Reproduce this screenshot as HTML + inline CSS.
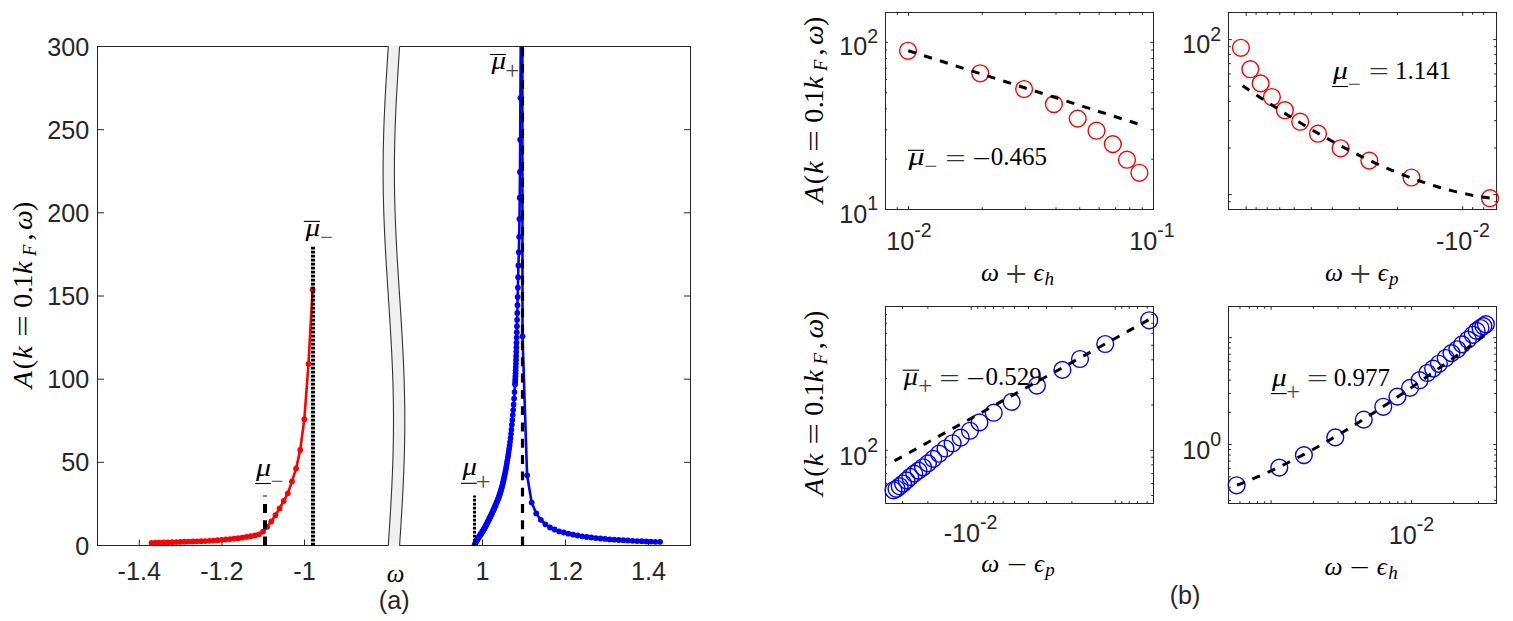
<!DOCTYPE html>
<html><head><meta charset="utf-8"><title>Spectral function figure</title><style>html,body{margin:0;padding:0;background:#fff;}svg{display:block;}</style></head><body>
<svg width="1513" height="621" viewBox="0 0 1513 621"><defs><clipPath id="clipA"><rect x="97.5" y="46.5" width="593" height="499.5"/></clipPath></defs>
<line x1="97.5" y1="46.5" x2="690.5" y2="46.5" stroke="#262626" stroke-width="1"/>
<line x1="97.5" y1="545.5" x2="690.5" y2="545.5" stroke="#262626" stroke-width="1"/>
<line x1="97.5" y1="46" x2="97.5" y2="546" stroke="#262626" stroke-width="1"/>
<line x1="690.5" y1="46" x2="690.5" y2="546" stroke="#262626" stroke-width="1"/>
<line x1="97.5" y1="545.5" x2="104" y2="545.5" stroke="#262626" stroke-width="1"/>
<line x1="690.5" y1="545.5" x2="684" y2="545.5" stroke="#262626" stroke-width="1"/>
<line x1="97.5" y1="462.33" x2="104" y2="462.33" stroke="#262626" stroke-width="1"/>
<line x1="690.5" y1="462.33" x2="684" y2="462.33" stroke="#262626" stroke-width="1"/>
<line x1="97.5" y1="379.17" x2="104" y2="379.17" stroke="#262626" stroke-width="1"/>
<line x1="690.5" y1="379.17" x2="684" y2="379.17" stroke="#262626" stroke-width="1"/>
<line x1="97.5" y1="296" x2="104" y2="296" stroke="#262626" stroke-width="1"/>
<line x1="690.5" y1="296" x2="684" y2="296" stroke="#262626" stroke-width="1"/>
<line x1="97.5" y1="212.83" x2="104" y2="212.83" stroke="#262626" stroke-width="1"/>
<line x1="690.5" y1="212.83" x2="684" y2="212.83" stroke="#262626" stroke-width="1"/>
<line x1="97.5" y1="129.67" x2="104" y2="129.67" stroke="#262626" stroke-width="1"/>
<line x1="690.5" y1="129.67" x2="684" y2="129.67" stroke="#262626" stroke-width="1"/>
<line x1="97.5" y1="46.5" x2="104" y2="46.5" stroke="#262626" stroke-width="1"/>
<line x1="690.5" y1="46.5" x2="684" y2="46.5" stroke="#262626" stroke-width="1"/>
<line x1="139.3" y1="545.5" x2="139.3" y2="539.5" stroke="#262626" stroke-width="1"/>
<line x1="221.9" y1="545.5" x2="221.9" y2="539.5" stroke="#262626" stroke-width="1"/>
<line x1="304.5" y1="545.5" x2="304.5" y2="539.5" stroke="#262626" stroke-width="1"/>
<line x1="482.5" y1="545.5" x2="482.5" y2="539.5" stroke="#262626" stroke-width="1"/>
<line x1="565.5" y1="545.5" x2="565.5" y2="539.5" stroke="#262626" stroke-width="1"/>
<line x1="648.5" y1="545.5" x2="648.5" y2="539.5" stroke="#262626" stroke-width="1"/>
<path d="M388.35,45.8 L387.79,54.28 L387.24,62.77 L386.71,71.25 L386.19,79.74 L385.69,88.22 L385.23,96.71 L384.8,105.19 L384.41,113.68 L384.06,122.16 L383.76,130.65 L383.52,139.13 L383.33,147.62 L383.19,156.1 L383.12,164.59 L383.1,173.07 L383.14,181.56 L383.24,190.04 L383.4,198.53 L383.62,207.01 L383.89,215.49 L384.2,223.98 L384.57,232.46 L384.98,240.95 L385.42,249.43 L385.9,257.92 L386.41,266.4 L386.93,274.89 L387.48,283.37 L388.03,291.86 L388.58,300.34 L389.14,308.83 L389.68,317.31 L390.21,325.8 L390.71,334.28 L391.19,342.77 L391.63,351.25 L392.04,359.74 L392.4,368.22 L392.72,376.71 L392.99,385.19 L393.2,393.67 L393.36,402.16 L393.46,410.64 L393.5,419.13 L393.48,427.61 L393.4,436.1 L393.27,444.58 L393.08,453.07 L392.83,461.55 L392.53,470.04 L392.18,478.52 L391.79,487.01 L391.36,495.49 L390.9,503.98 L390.4,512.46 L389.88,520.95 L389.35,529.43 L388.8,537.92 L388.24,546.4 L399.54,546.4 L400.1,537.92 L400.65,529.43 L401.18,520.95 L401.7,512.46 L402.2,503.98 L402.66,495.49 L403.09,487.01 L403.48,478.52 L403.83,470.04 L404.13,461.55 L404.38,453.07 L404.57,444.58 L404.7,436.1 L404.78,427.61 L404.8,419.13 L404.76,410.64 L404.66,402.16 L404.5,393.67 L404.29,385.19 L404.02,376.71 L403.7,368.22 L403.34,359.74 L402.93,351.25 L402.49,342.77 L402.01,334.28 L401.51,325.8 L400.98,317.31 L400.44,308.83 L399.88,300.34 L399.33,291.86 L398.78,283.37 L398.23,274.89 L397.71,266.4 L397.2,257.92 L396.72,249.43 L396.28,240.95 L395.87,232.46 L395.5,223.98 L395.19,215.49 L394.92,207.01 L394.7,198.53 L394.54,190.04 L394.44,181.56 L394.4,173.07 L394.42,164.59 L394.49,156.1 L394.63,147.62 L394.82,139.13 L395.06,130.65 L395.36,122.16 L395.71,113.68 L396.1,105.19 L396.53,96.71 L396.99,88.22 L397.49,79.74 L398.01,71.25 L398.54,62.77 L399.09,54.28 L399.65,45.8 Z" fill="#f0f0f0" stroke="none"/>
<polyline points="388.3,46.5 387.75,54.96 387.2,63.42 386.67,71.87 386.15,80.33 385.66,88.79 385.2,97.25 384.77,105.7 384.39,114.16 384.04,122.62 383.75,131.08 383.51,139.53 383.32,147.99 383.19,156.45 383.12,164.91 383.1,173.36 383.15,181.82 383.25,190.28 383.41,198.74 383.62,207.19 383.89,215.65 384.21,224.11 384.57,232.57 384.98,241.03 385.43,249.48 385.9,257.94 386.41,266.4 386.93,274.86 387.47,283.31 388.02,291.77 388.58,300.23 389.13,308.69 389.67,317.14 390.19,325.6 390.7,334.06 391.17,342.52 391.62,350.97 392.03,359.43 392.39,367.89 392.71,376.35 392.98,384.81 393.19,393.26 393.35,401.72 393.45,410.18 393.5,418.64 393.48,427.09 393.41,435.55 393.28,444.01 393.09,452.47 392.85,460.92 392.56,469.38 392.21,477.84 391.83,486.3 391.4,494.75 390.94,503.21 390.45,511.67 389.93,520.13 389.4,528.58 388.85,537.04 388.3,545.5" fill="none" stroke="#333333" stroke-width="1.1" stroke-linejoin="round"/>
<polyline points="399.6,46.5 399.05,54.96 398.5,63.42 397.97,71.87 397.45,80.33 396.96,88.79 396.5,97.25 396.07,105.7 395.69,114.16 395.34,122.62 395.05,131.08 394.81,139.53 394.62,147.99 394.49,156.45 394.42,164.91 394.4,173.36 394.45,181.82 394.55,190.28 394.71,198.74 394.92,207.19 395.19,215.65 395.51,224.11 395.87,232.57 396.28,241.03 396.73,249.48 397.2,257.94 397.71,266.4 398.23,274.86 398.77,283.31 399.32,291.77 399.88,300.23 400.43,308.69 400.97,317.14 401.49,325.6 402,334.06 402.47,342.52 402.92,350.97 403.33,359.43 403.69,367.89 404.01,376.35 404.28,384.81 404.49,393.26 404.65,401.72 404.75,410.18 404.8,418.64 404.78,427.09 404.71,435.55 404.58,444.01 404.39,452.47 404.15,460.92 403.86,469.38 403.51,477.84 403.13,486.3 402.7,494.75 402.24,503.21 401.75,511.67 401.23,520.13 400.7,528.58 400.15,537.04 399.6,545.5" fill="none" stroke="#333333" stroke-width="1.1" stroke-linejoin="round"/>
<text x="89.2" y="554.65" font-family="'Liberation Sans', Arial, sans-serif" font-size="25.2" text-anchor="end" fill="#262626">0</text>
<text x="89.2" y="471.48" font-family="'Liberation Sans', Arial, sans-serif" font-size="25.2" text-anchor="end" fill="#262626">50</text>
<text x="89.2" y="388.32" font-family="'Liberation Sans', Arial, sans-serif" font-size="25.2" text-anchor="end" fill="#262626">100</text>
<text x="89.2" y="305.15" font-family="'Liberation Sans', Arial, sans-serif" font-size="25.2" text-anchor="end" fill="#262626">150</text>
<text x="89.2" y="221.98" font-family="'Liberation Sans', Arial, sans-serif" font-size="25.2" text-anchor="end" fill="#262626">200</text>
<text x="89.2" y="138.82" font-family="'Liberation Sans', Arial, sans-serif" font-size="25.2" text-anchor="end" fill="#262626">250</text>
<text x="89.2" y="55.65" font-family="'Liberation Sans', Arial, sans-serif" font-size="25.2" text-anchor="end" fill="#262626">300</text>
<text x="139.3" y="579.8" font-family="'Liberation Sans', Arial, sans-serif" font-size="25.2" text-anchor="middle" fill="#262626">-1.4</text>
<text x="221.9" y="579.8" font-family="'Liberation Sans', Arial, sans-serif" font-size="25.2" text-anchor="middle" fill="#262626">-1.2</text>
<text x="304.5" y="579.8" font-family="'Liberation Sans', Arial, sans-serif" font-size="25.2" text-anchor="middle" fill="#262626">-1</text>
<text x="482.5" y="579.8" font-family="'Liberation Sans', Arial, sans-serif" font-size="25.2" text-anchor="middle" fill="#262626">1</text>
<text x="565.5" y="579.8" font-family="'Liberation Sans', Arial, sans-serif" font-size="25.2" text-anchor="middle" fill="#262626">1.2</text>
<text x="648.5" y="579.8" font-family="'Liberation Sans', Arial, sans-serif" font-size="25.2" text-anchor="middle" fill="#262626">1.4</text>
<text x="386.87" y="582" font-family="'Liberation Serif', 'Times New Roman', serif" font-size="25" fill="#000" font-style="italic">ω</text>
<text x="394.15" y="608.6" font-family="'Liberation Sans', Arial, sans-serif" font-size="25.2" text-anchor="middle" fill="#262626">(a)</text>
<polyline points="151.53,542.8 155.66,542.69 159.79,542.56 163.92,542.43 168.05,542.3 172.18,542.16 176.31,542.03 180.44,541.89 184.57,541.75 188.7,541.62 192.83,541.49 196.96,541.35 201.09,541.2 205.22,541.03 209.35,540.83 213.48,540.57 217.61,540.23 221.74,539.86 225.87,539.49 230,539.1 234.13,538.68 238.26,538.19 242.39,537.62 246.52,536.94 250.65,536.18 254.78,535.39 258.91,534.36 263.04,531.6 267.17,526.8 271.3,521.5 275.43,515.2 279.56,508.5 283.69,501 287.82,493.3 291.95,481.3 296.08,468.6 300.21,449.9 304.34,419.2 308.47,363.8 312.6,289.5" fill="none" stroke="#ff0000" stroke-width="2.6" stroke-linejoin="round"/>
<circle cx="151.53" cy="542.8" r="2.9" fill="#ff0000" stroke="none" stroke-width="1"/>
<circle cx="155.66" cy="542.69" r="2.9" fill="#ff0000" stroke="none" stroke-width="1"/>
<circle cx="159.79" cy="542.56" r="2.9" fill="#ff0000" stroke="none" stroke-width="1"/>
<circle cx="163.92" cy="542.43" r="2.9" fill="#ff0000" stroke="none" stroke-width="1"/>
<circle cx="168.05" cy="542.3" r="2.9" fill="#ff0000" stroke="none" stroke-width="1"/>
<circle cx="172.18" cy="542.16" r="2.9" fill="#ff0000" stroke="none" stroke-width="1"/>
<circle cx="176.31" cy="542.03" r="2.9" fill="#ff0000" stroke="none" stroke-width="1"/>
<circle cx="180.44" cy="541.89" r="2.9" fill="#ff0000" stroke="none" stroke-width="1"/>
<circle cx="184.57" cy="541.75" r="2.9" fill="#ff0000" stroke="none" stroke-width="1"/>
<circle cx="188.7" cy="541.62" r="2.9" fill="#ff0000" stroke="none" stroke-width="1"/>
<circle cx="192.83" cy="541.49" r="2.9" fill="#ff0000" stroke="none" stroke-width="1"/>
<circle cx="196.96" cy="541.35" r="2.9" fill="#ff0000" stroke="none" stroke-width="1"/>
<circle cx="201.09" cy="541.2" r="2.9" fill="#ff0000" stroke="none" stroke-width="1"/>
<circle cx="205.22" cy="541.03" r="2.9" fill="#ff0000" stroke="none" stroke-width="1"/>
<circle cx="209.35" cy="540.83" r="2.9" fill="#ff0000" stroke="none" stroke-width="1"/>
<circle cx="213.48" cy="540.57" r="2.9" fill="#ff0000" stroke="none" stroke-width="1"/>
<circle cx="217.61" cy="540.23" r="2.9" fill="#ff0000" stroke="none" stroke-width="1"/>
<circle cx="221.74" cy="539.86" r="2.9" fill="#ff0000" stroke="none" stroke-width="1"/>
<circle cx="225.87" cy="539.49" r="2.9" fill="#ff0000" stroke="none" stroke-width="1"/>
<circle cx="230" cy="539.1" r="2.9" fill="#ff0000" stroke="none" stroke-width="1"/>
<circle cx="234.13" cy="538.68" r="2.9" fill="#ff0000" stroke="none" stroke-width="1"/>
<circle cx="238.26" cy="538.19" r="2.9" fill="#ff0000" stroke="none" stroke-width="1"/>
<circle cx="242.39" cy="537.62" r="2.9" fill="#ff0000" stroke="none" stroke-width="1"/>
<circle cx="246.52" cy="536.94" r="2.9" fill="#ff0000" stroke="none" stroke-width="1"/>
<circle cx="250.65" cy="536.18" r="2.9" fill="#ff0000" stroke="none" stroke-width="1"/>
<circle cx="254.78" cy="535.39" r="2.9" fill="#ff0000" stroke="none" stroke-width="1"/>
<circle cx="258.91" cy="534.36" r="2.9" fill="#ff0000" stroke="none" stroke-width="1"/>
<circle cx="263.04" cy="531.6" r="2.9" fill="#ff0000" stroke="none" stroke-width="1"/>
<circle cx="267.17" cy="526.8" r="2.9" fill="#ff0000" stroke="none" stroke-width="1"/>
<circle cx="271.3" cy="521.5" r="2.9" fill="#ff0000" stroke="none" stroke-width="1"/>
<circle cx="275.43" cy="515.2" r="2.9" fill="#ff0000" stroke="none" stroke-width="1"/>
<circle cx="279.56" cy="508.5" r="2.9" fill="#ff0000" stroke="none" stroke-width="1"/>
<circle cx="283.69" cy="501" r="2.9" fill="#ff0000" stroke="none" stroke-width="1"/>
<circle cx="287.82" cy="493.3" r="2.9" fill="#ff0000" stroke="none" stroke-width="1"/>
<circle cx="291.95" cy="481.3" r="2.9" fill="#ff0000" stroke="none" stroke-width="1"/>
<circle cx="296.08" cy="468.6" r="2.9" fill="#ff0000" stroke="none" stroke-width="1"/>
<circle cx="300.21" cy="449.9" r="2.9" fill="#ff0000" stroke="none" stroke-width="1"/>
<circle cx="304.34" cy="419.2" r="2.9" fill="#ff0000" stroke="none" stroke-width="1"/>
<circle cx="308.47" cy="363.8" r="2.9" fill="#ff0000" stroke="none" stroke-width="1"/>
<circle cx="312.6" cy="289.5" r="2.9" fill="#ff0000" stroke="none" stroke-width="1"/>
<g clip-path="url(#clipA)">
<polyline points="474.5,545.5 476.57,540.75 479.55,536 482.7,531.25 485.39,526.49 487.87,521.74 490.23,516.99 492.45,512.24 494.55,507.49 496.58,502.74 498.46,497.99 500.09,493.24 501.48,488.48 502.72,483.73 503.84,478.98 504.86,474.23 505.79,469.48 506.64,464.73 507.44,459.98 508.19,455.23 508.9,450.47 509.57,445.72 510.18,440.97 510.73,436.22 511.22,431.47 511.68,426.72 512.12,421.97 512.56,417.22 512.99,412.46 513.4,407.71 513.78,402.96 514.13,398.21 514.46,393.46 514.77,388.71 515.05,383.96 515.3,379.21 515.51,374.45 515.69,369.7 515.86,364.95 516.02,360.2 516.16,355.45 516.3,350.7 516.43,345.95 516.57,341.2 516.7,336.44 516.83,331.69 516.95,326.94 517.07,322.19 517.18,317.44 517.3,312.69 517.41,307.94 517.52,303.19 517.64,298.43 517.75,293.68 517.85,288.93 517.96,284.18 518.07,279.43 518.18,274.68 518.3,269.93 518.42,265.18 518.58,260.42 518.74,255.67 518.88,250.92 518.98,246.17 519.08,241.42 519.17,236.67 519.25,231.92 519.33,227.17 519.41,222.41 519.48,217.66 519.54,212.91 519.6,208.16 519.66,203.41 519.72,198.66 519.77,193.91 519.82,189.16 519.86,184.4 519.91,179.65 519.95,174.9 519.98,170.15 520.02,165.4 520.05,160.65 520.08,155.9 520.11,151.15 520.14,146.39 520.16,141.64 520.19,136.89 520.21,132.14 520.24,127.39 520.26,122.64 520.29,117.89 520.31,113.14 520.34,108.38 520.36,103.63 520.39,98.88 520.42,94.13 520.45,89.38 520.48,84.63 520.51,79.88 520.54,75.13 520.57,70.37 520.6,65.62 520.62,60.87 520.65,56.12 520.68,51.37 520.7,46.62 520.72,41.87 520.74,37.12 520.76,32.36 520.78,27.61 520.8,22.86 520.82,18.11 520.84,13.36 520.86,8.61 520.88,3.86 520.9,-0.89 520.92,-5.65 520.94,-10.4 520.95,-15.15 520.97,-19.9 520.99,-24.65 521.01,-29.4 521.02,-34.15 521.04,-38.9 521.05,-43.66 521.07,-48.41 521.08,-53.16 521.1,-57.91 521.11,-62.66 521.12,-67.41 521.14,-72.16 521.15,-76.91 521.16,-81.67 521.17,-86.42 521.18,-91.17 521.19,-95.92 521.2,-100.67 521.21,-105.42 521.22,-110.17 521.23,-114.92 521.24,-119.68 521.25,-124.43 521.26,-129.18 521.27,-133.93 521.28,-138.68 521.29,-143.43 521.3,-148.18 521.31,-152.93 521.31,-157.69 521.32,-162.44 521.33,-167.19 521.34,-171.94 521.35,-176.69 521.36,-181.44 521.37,-186.19 521.38,-190.94 521.39,-195.7 521.39,-200.45 521.4,-205.2 521.41,-209.95 521.42,-214.7 521.43,-219.45 521.44,-224.2 521.44,-228.95 521.45,-233.71 521.46,-238.46 521.47,-243.21 521.47,-247.96 521.48,-252.71 521.49,-257.46 521.49,-262.21 521.5,-266.96 521.51,-271.72 521.51,-276.47 521.52,-281.22 521.52,-285.97 521.53,-290.72 521.54,-295.47 521.54,-300.22 521.55,-304.97 521.55,-309.73 521.56,-314.48 521.56,-319.23 521.56,-323.98 521.57,-328.73 521.57,-333.48 521.58,-338.23 521.58,-342.98 521.58,-347.74 521.59,-352.49 521.59,-357.24 521.59,-361.99 521.59,-366.74 521.59,-371.49 521.6,-376.24 521.6,-380.99 521.6,-385.75 521.6,-390.5 521.6,-395.25 521.6,-400" fill="none" stroke="#0000ff" stroke-width="2.6" stroke-linejoin="round"/>
<polyline points="522.2,-400 522.5,336.3 527.09,475.3 531.67,502.6 536.25,513.4 540.84,519.8 545.42,524.3 550.01,527.5 554.6,529.5 559.18,531.4 563.76,532.5 568.35,533.7 572.93,534.6 577.52,535.5 582.11,536.3 586.69,536.9 591.27,537.5 595.86,538.1 600.44,538.5 605.03,538.9 609.62,539.4 614.2,539.7 618.78,540 623.37,540.2 627.96,540.5 632.54,540.8 637.12,541.1 641.71,541.2 646.29,541.4 650.88,541.6 655.47,541.8 660.05,541.8" fill="none" stroke="#0000ff" stroke-width="2.6" stroke-linejoin="round"/>
<circle cx="474.5" cy="545.5" r="2.85" fill="#0000ff" stroke="none" stroke-width="1"/>
<circle cx="474.96" cy="544.1" r="2.85" fill="#0000ff" stroke="none" stroke-width="1"/>
<circle cx="475.4" cy="543.05" r="2.85" fill="#0000ff" stroke="none" stroke-width="1"/>
<circle cx="475.86" cy="542.09" r="2.85" fill="#0000ff" stroke="none" stroke-width="1"/>
<circle cx="476.3" cy="541.25" r="2.85" fill="#0000ff" stroke="none" stroke-width="1"/>
<circle cx="476.77" cy="540.4" r="2.85" fill="#0000ff" stroke="none" stroke-width="1"/>
<circle cx="477.22" cy="539.64" r="2.85" fill="#0000ff" stroke="none" stroke-width="1"/>
<circle cx="477.66" cy="538.92" r="2.85" fill="#0000ff" stroke="none" stroke-width="1"/>
<circle cx="478.11" cy="538.2" r="2.85" fill="#0000ff" stroke="none" stroke-width="1"/>
<circle cx="478.55" cy="537.51" r="2.85" fill="#0000ff" stroke="none" stroke-width="1"/>
<circle cx="479.02" cy="536.79" r="2.85" fill="#0000ff" stroke="none" stroke-width="1"/>
<circle cx="479.45" cy="536.15" r="2.85" fill="#0000ff" stroke="none" stroke-width="1"/>
<circle cx="479.91" cy="535.47" r="2.85" fill="#0000ff" stroke="none" stroke-width="1"/>
<circle cx="480.37" cy="534.78" r="2.85" fill="#0000ff" stroke="none" stroke-width="1"/>
<circle cx="480.83" cy="534.1" r="2.85" fill="#0000ff" stroke="none" stroke-width="1"/>
<circle cx="481.26" cy="533.46" r="2.85" fill="#0000ff" stroke="none" stroke-width="1"/>
<circle cx="481.71" cy="532.78" r="2.85" fill="#0000ff" stroke="none" stroke-width="1"/>
<circle cx="482.15" cy="532.09" r="2.85" fill="#0000ff" stroke="none" stroke-width="1"/>
<circle cx="482.62" cy="531.37" r="2.85" fill="#0000ff" stroke="none" stroke-width="1"/>
<circle cx="483.07" cy="530.65" r="2.85" fill="#0000ff" stroke="none" stroke-width="1"/>
<circle cx="483.5" cy="529.93" r="2.85" fill="#0000ff" stroke="none" stroke-width="1"/>
<circle cx="483.96" cy="529.12" r="2.85" fill="#0000ff" stroke="none" stroke-width="1"/>
<circle cx="484.41" cy="528.32" r="2.85" fill="#0000ff" stroke="none" stroke-width="1"/>
<circle cx="484.86" cy="527.48" r="2.85" fill="#0000ff" stroke="none" stroke-width="1"/>
<circle cx="485.32" cy="526.64" r="2.85" fill="#0000ff" stroke="none" stroke-width="1"/>
<circle cx="485.76" cy="525.79" r="2.85" fill="#0000ff" stroke="none" stroke-width="1"/>
<circle cx="486.21" cy="524.95" r="2.85" fill="#0000ff" stroke="none" stroke-width="1"/>
<circle cx="486.65" cy="524.11" r="2.85" fill="#0000ff" stroke="none" stroke-width="1"/>
<circle cx="487.11" cy="523.23" r="2.85" fill="#0000ff" stroke="none" stroke-width="1"/>
<circle cx="487.57" cy="522.34" r="2.85" fill="#0000ff" stroke="none" stroke-width="1"/>
<circle cx="488.02" cy="521.46" r="2.85" fill="#0000ff" stroke="none" stroke-width="1"/>
<circle cx="488.46" cy="520.58" r="2.85" fill="#0000ff" stroke="none" stroke-width="1"/>
<circle cx="488.91" cy="519.69" r="2.85" fill="#0000ff" stroke="none" stroke-width="1"/>
<circle cx="489.36" cy="518.77" r="2.85" fill="#0000ff" stroke="none" stroke-width="1"/>
<circle cx="489.81" cy="517.85" r="2.85" fill="#0000ff" stroke="none" stroke-width="1"/>
<circle cx="490.26" cy="516.92" r="2.85" fill="#0000ff" stroke="none" stroke-width="1"/>
<circle cx="490.7" cy="516" r="2.85" fill="#0000ff" stroke="none" stroke-width="1"/>
<circle cx="491.16" cy="515.04" r="2.85" fill="#0000ff" stroke="none" stroke-width="1"/>
<circle cx="491.61" cy="514.07" r="2.85" fill="#0000ff" stroke="none" stroke-width="1"/>
<circle cx="492.05" cy="513.11" r="2.85" fill="#0000ff" stroke="none" stroke-width="1"/>
<circle cx="492.51" cy="512.11" r="2.85" fill="#0000ff" stroke="none" stroke-width="1"/>
<circle cx="492.95" cy="511.1" r="2.85" fill="#0000ff" stroke="none" stroke-width="1"/>
<circle cx="493.42" cy="510.06" r="2.85" fill="#0000ff" stroke="none" stroke-width="1"/>
<circle cx="493.86" cy="509.06" r="2.85" fill="#0000ff" stroke="none" stroke-width="1"/>
<circle cx="494.3" cy="508.05" r="2.85" fill="#0000ff" stroke="none" stroke-width="1"/>
<circle cx="494.76" cy="507.01" r="2.85" fill="#0000ff" stroke="none" stroke-width="1"/>
<circle cx="495.21" cy="505.97" r="2.85" fill="#0000ff" stroke="none" stroke-width="1"/>
<circle cx="495.66" cy="504.92" r="2.85" fill="#0000ff" stroke="none" stroke-width="1"/>
<circle cx="496.1" cy="503.88" r="2.85" fill="#0000ff" stroke="none" stroke-width="1"/>
<circle cx="496.56" cy="502.8" r="2.85" fill="#0000ff" stroke="none" stroke-width="1"/>
<circle cx="497" cy="501.71" r="2.85" fill="#0000ff" stroke="none" stroke-width="1"/>
<circle cx="497.45" cy="500.59" r="2.85" fill="#0000ff" stroke="none" stroke-width="1"/>
<circle cx="497.91" cy="499.42" r="2.85" fill="#0000ff" stroke="none" stroke-width="1"/>
<circle cx="498.36" cy="498.26" r="2.85" fill="#0000ff" stroke="none" stroke-width="1"/>
<circle cx="498.81" cy="497.02" r="2.85" fill="#0000ff" stroke="none" stroke-width="1"/>
<circle cx="499.25" cy="495.77" r="2.85" fill="#0000ff" stroke="none" stroke-width="1"/>
<circle cx="499.7" cy="494.45" r="2.85" fill="#0000ff" stroke="none" stroke-width="1"/>
<circle cx="500.16" cy="493" r="2.85" fill="#0000ff" stroke="none" stroke-width="1"/>
<circle cx="500.61" cy="491.52" r="2.85" fill="#0000ff" stroke="none" stroke-width="1"/>
<circle cx="501.06" cy="489.99" r="2.85" fill="#0000ff" stroke="none" stroke-width="1"/>
<circle cx="501.51" cy="488.39" r="2.85" fill="#0000ff" stroke="none" stroke-width="1"/>
<circle cx="501.95" cy="486.74" r="2.85" fill="#0000ff" stroke="none" stroke-width="1"/>
<circle cx="502.4" cy="485.02" r="2.85" fill="#0000ff" stroke="none" stroke-width="1"/>
<circle cx="502.85" cy="483.21" r="2.85" fill="#0000ff" stroke="none" stroke-width="1"/>
<circle cx="503.31" cy="481.32" r="2.85" fill="#0000ff" stroke="none" stroke-width="1"/>
<circle cx="503.75" cy="479.4" r="2.85" fill="#0000ff" stroke="none" stroke-width="1"/>
<circle cx="504.2" cy="477.35" r="2.85" fill="#0000ff" stroke="none" stroke-width="1"/>
<circle cx="504.66" cy="475.22" r="2.85" fill="#0000ff" stroke="none" stroke-width="1"/>
<circle cx="505.1" cy="473.06" r="2.85" fill="#0000ff" stroke="none" stroke-width="1"/>
<circle cx="505.56" cy="470.73" r="2.85" fill="#0000ff" stroke="none" stroke-width="1"/>
<circle cx="506.01" cy="468.32" r="2.85" fill="#0000ff" stroke="none" stroke-width="1"/>
<circle cx="506.45" cy="465.83" r="2.85" fill="#0000ff" stroke="none" stroke-width="1"/>
<circle cx="506.9" cy="463.22" r="2.85" fill="#0000ff" stroke="none" stroke-width="1"/>
<circle cx="507.35" cy="460.49" r="2.85" fill="#0000ff" stroke="none" stroke-width="1"/>
<circle cx="507.8" cy="457.68" r="2.85" fill="#0000ff" stroke="none" stroke-width="1"/>
<circle cx="508.25" cy="454.79" r="2.85" fill="#0000ff" stroke="none" stroke-width="1"/>
<circle cx="508.71" cy="451.82" r="2.85" fill="#0000ff" stroke="none" stroke-width="1"/>
<circle cx="509.15" cy="448.77" r="2.85" fill="#0000ff" stroke="none" stroke-width="1"/>
<circle cx="509.6" cy="445.52" r="2.85" fill="#0000ff" stroke="none" stroke-width="1"/>
<circle cx="510.05" cy="442.03" r="2.85" fill="#0000ff" stroke="none" stroke-width="1"/>
<circle cx="510.5" cy="438.26" r="2.85" fill="#0000ff" stroke="none" stroke-width="1"/>
<circle cx="510.95" cy="434.09" r="2.85" fill="#0000ff" stroke="none" stroke-width="1"/>
<circle cx="511.4" cy="429.63" r="2.85" fill="#0000ff" stroke="none" stroke-width="1"/>
<circle cx="511.85" cy="424.85" r="2.85" fill="#0000ff" stroke="none" stroke-width="1"/>
<circle cx="512.3" cy="420" r="2.85" fill="#0000ff" stroke="none" stroke-width="1"/>
<circle cx="512.75" cy="415.06" r="2.85" fill="#0000ff" stroke="none" stroke-width="1"/>
<circle cx="513.2" cy="410" r="2.85" fill="#0000ff" stroke="none" stroke-width="1"/>
<circle cx="513.65" cy="404.63" r="2.85" fill="#0000ff" stroke="none" stroke-width="1"/>
<circle cx="514.1" cy="398.57" r="2.85" fill="#0000ff" stroke="none" stroke-width="1"/>
<circle cx="514.55" cy="392.02" r="2.85" fill="#0000ff" stroke="none" stroke-width="1"/>
<circle cx="520.39" cy="97.87" r="2.9" fill="#0000ff" stroke="none" stroke-width="1"/>
<circle cx="520.17" cy="139.73" r="2.9" fill="#0000ff" stroke="none" stroke-width="1"/>
<circle cx="519.97" cy="171.96" r="2.9" fill="#0000ff" stroke="none" stroke-width="1"/>
<circle cx="519.73" cy="197.76" r="2.9" fill="#0000ff" stroke="none" stroke-width="1"/>
<circle cx="519.46" cy="219" r="2.9" fill="#0000ff" stroke="none" stroke-width="1"/>
<circle cx="519.17" cy="236.87" r="2.9" fill="#0000ff" stroke="none" stroke-width="1"/>
<circle cx="518.85" cy="252.19" r="2.9" fill="#0000ff" stroke="none" stroke-width="1"/>
<circle cx="518.41" cy="265.49" r="2.9" fill="#0000ff" stroke="none" stroke-width="1"/>
<circle cx="518.12" cy="277.19" r="2.9" fill="#0000ff" stroke="none" stroke-width="1"/>
<circle cx="517.88" cy="287.57" r="2.9" fill="#0000ff" stroke="none" stroke-width="1"/>
<circle cx="517.67" cy="296.88" r="2.9" fill="#0000ff" stroke="none" stroke-width="1"/>
<circle cx="517.47" cy="305.27" r="2.9" fill="#0000ff" stroke="none" stroke-width="1"/>
<circle cx="517.29" cy="312.9" r="2.9" fill="#0000ff" stroke="none" stroke-width="1"/>
<circle cx="517.12" cy="319.87" r="2.9" fill="#0000ff" stroke="none" stroke-width="1"/>
<circle cx="516.97" cy="326.26" r="2.9" fill="#0000ff" stroke="none" stroke-width="1"/>
<circle cx="516.81" cy="332.16" r="2.9" fill="#0000ff" stroke="none" stroke-width="1"/>
<circle cx="516.67" cy="337.62" r="2.9" fill="#0000ff" stroke="none" stroke-width="1"/>
<circle cx="516.52" cy="342.7" r="2.9" fill="#0000ff" stroke="none" stroke-width="1"/>
<circle cx="516.39" cy="347.43" r="2.9" fill="#0000ff" stroke="none" stroke-width="1"/>
<circle cx="516.27" cy="351.86" r="2.9" fill="#0000ff" stroke="none" stroke-width="1"/>
<circle cx="516.15" cy="356.01" r="2.9" fill="#0000ff" stroke="none" stroke-width="1"/>
<circle cx="516.03" cy="359.91" r="2.9" fill="#0000ff" stroke="none" stroke-width="1"/>
<circle cx="515.91" cy="363.6" r="2.9" fill="#0000ff" stroke="none" stroke-width="1"/>
<circle cx="515.79" cy="367.07" r="2.9" fill="#0000ff" stroke="none" stroke-width="1"/>
<circle cx="515.67" cy="370.37" r="2.9" fill="#0000ff" stroke="none" stroke-width="1"/>
<circle cx="515.55" cy="373.49" r="2.9" fill="#0000ff" stroke="none" stroke-width="1"/>
<circle cx="515.42" cy="376.46" r="2.9" fill="#0000ff" stroke="none" stroke-width="1"/>
<circle cx="515.3" cy="379.28" r="2.9" fill="#0000ff" stroke="none" stroke-width="1"/>
<circle cx="515.16" cy="381.97" r="2.9" fill="#0000ff" stroke="none" stroke-width="1"/>
<circle cx="515.02" cy="384.54" r="2.9" fill="#0000ff" stroke="none" stroke-width="1"/>
<circle cx="522.5" cy="336.3" r="2.9" fill="#0000ff" stroke="none" stroke-width="1"/>
<circle cx="527.09" cy="475.3" r="2.9" fill="#0000ff" stroke="none" stroke-width="1"/>
<circle cx="531.67" cy="502.6" r="2.9" fill="#0000ff" stroke="none" stroke-width="1"/>
<circle cx="536.25" cy="513.4" r="2.9" fill="#0000ff" stroke="none" stroke-width="1"/>
<circle cx="540.84" cy="519.8" r="2.9" fill="#0000ff" stroke="none" stroke-width="1"/>
<circle cx="545.42" cy="524.3" r="2.9" fill="#0000ff" stroke="none" stroke-width="1"/>
<circle cx="550.01" cy="527.5" r="2.9" fill="#0000ff" stroke="none" stroke-width="1"/>
<circle cx="554.6" cy="529.5" r="2.9" fill="#0000ff" stroke="none" stroke-width="1"/>
<circle cx="559.18" cy="531.4" r="2.9" fill="#0000ff" stroke="none" stroke-width="1"/>
<circle cx="563.76" cy="532.5" r="2.9" fill="#0000ff" stroke="none" stroke-width="1"/>
<circle cx="568.35" cy="533.7" r="2.9" fill="#0000ff" stroke="none" stroke-width="1"/>
<circle cx="572.93" cy="534.6" r="2.9" fill="#0000ff" stroke="none" stroke-width="1"/>
<circle cx="577.52" cy="535.5" r="2.9" fill="#0000ff" stroke="none" stroke-width="1"/>
<circle cx="582.11" cy="536.3" r="2.9" fill="#0000ff" stroke="none" stroke-width="1"/>
<circle cx="586.69" cy="536.9" r="2.9" fill="#0000ff" stroke="none" stroke-width="1"/>
<circle cx="591.27" cy="537.5" r="2.9" fill="#0000ff" stroke="none" stroke-width="1"/>
<circle cx="595.86" cy="538.1" r="2.9" fill="#0000ff" stroke="none" stroke-width="1"/>
<circle cx="600.44" cy="538.5" r="2.9" fill="#0000ff" stroke="none" stroke-width="1"/>
<circle cx="605.03" cy="538.9" r="2.9" fill="#0000ff" stroke="none" stroke-width="1"/>
<circle cx="609.62" cy="539.4" r="2.9" fill="#0000ff" stroke="none" stroke-width="1"/>
<circle cx="614.2" cy="539.7" r="2.9" fill="#0000ff" stroke="none" stroke-width="1"/>
<circle cx="618.78" cy="540" r="2.9" fill="#0000ff" stroke="none" stroke-width="1"/>
<circle cx="623.37" cy="540.2" r="2.9" fill="#0000ff" stroke="none" stroke-width="1"/>
<circle cx="627.96" cy="540.5" r="2.9" fill="#0000ff" stroke="none" stroke-width="1"/>
<circle cx="632.54" cy="540.8" r="2.9" fill="#0000ff" stroke="none" stroke-width="1"/>
<circle cx="637.12" cy="541.1" r="2.9" fill="#0000ff" stroke="none" stroke-width="1"/>
<circle cx="641.71" cy="541.2" r="2.9" fill="#0000ff" stroke="none" stroke-width="1"/>
<circle cx="646.29" cy="541.4" r="2.9" fill="#0000ff" stroke="none" stroke-width="1"/>
<circle cx="650.88" cy="541.6" r="2.9" fill="#0000ff" stroke="none" stroke-width="1"/>
<circle cx="655.47" cy="541.8" r="2.9" fill="#0000ff" stroke="none" stroke-width="1"/>
<circle cx="660.05" cy="541.8" r="2.9" fill="#0000ff" stroke="none" stroke-width="1"/>
</g>
<line x1="265" y1="545.5" x2="265" y2="495.6" stroke="#000" stroke-width="4" stroke-dasharray="8.9 7.4"/>
<line x1="313" y1="545.5" x2="313" y2="246.1" stroke="#000" stroke-width="4" stroke-dasharray="2.7 1.3"/>
<line x1="474.5" y1="545.5" x2="474.5" y2="495.6" stroke="#000" stroke-width="3" stroke-dasharray="2.7 1.3"/>
<line x1="522.5" y1="545.5" x2="522.5" y2="46.5" stroke="#000" stroke-width="3.2" stroke-dasharray="8.9 7.4"/>
<text transform="translate(305.53,235.8) scale(1.14,1)" font-family="'Liberation Serif', 'Times New Roman', serif" font-size="25.5" fill="#000" font-style="italic">μ</text>
<line x1="303.8" y1="221.4" x2="320" y2="221.4" stroke="#000" stroke-width="1.1"/>
<text transform="translate(320.05,242.58) scale(1.28,1)" font-family="'Liberation Serif', 'Times New Roman', serif" font-size="18" fill="#444">−</text>
<text transform="translate(255.93,475.7) scale(1.18,1)" font-family="'Liberation Serif', 'Times New Roman', serif" font-size="25.5" fill="#000" font-style="italic">μ</text>
<line x1="255.1" y1="483.5" x2="270.9" y2="483.5" stroke="#000" stroke-width="1.1"/>
<text transform="translate(270.68,487.48) scale(1.25,1)" font-family="'Liberation Serif', 'Times New Roman', serif" font-size="18" fill="#444">−</text>
<text transform="translate(462.43,475.3) scale(1.13,1)" font-family="'Liberation Serif', 'Times New Roman', serif" font-size="25.5" fill="#000" font-style="italic">μ</text>
<line x1="460.9" y1="483.3" x2="476.9" y2="483.3" stroke="#000" stroke-width="1.1"/>
<text x="475.93" y="489.89" font-family="'Liberation Serif', 'Times New Roman', serif" font-size="25.57" fill="#444">+</text>
<text transform="translate(491.43,69) scale(1.14,1)" font-family="'Liberation Serif', 'Times New Roman', serif" font-size="25.5" fill="#000" font-style="italic">μ</text>
<line x1="490" y1="54.5" x2="505.9" y2="54.5" stroke="#000" stroke-width="1.1"/>
<text x="505.36" y="78.58" font-family="'Liberation Serif', 'Times New Roman', serif" font-size="24.93" fill="#444">+</text>
<text transform="translate(31.6,389.8) rotate(-90)" font-family="'Liberation Serif', 'Times New Roman', serif" fill="#000"><tspan x="1.53" y="0" font-size="28" font-style="italic">A</tspan><tspan x="20.57" y="0" font-size="28">(</tspan><tspan x="31.09" y="0" font-size="28" font-style="italic">k</tspan><tspan x="82.03" y="0" font-size="28">0</tspan><tspan x="96.45" y="0" font-size="28">.</tspan><tspan x="101.64" y="0" font-size="28">1</tspan><tspan x="115.69" y="0" font-size="28" font-style="italic">k</tspan><tspan x="133.9" y="3.9" font-size="18.5" font-style="italic">F</tspan><tspan x="149.23" y="0" font-size="28">,</tspan><tspan x="159.87" y="0" font-size="28" font-style="italic">ω</tspan><tspan x="178.7" y="0" font-size="28">)</tspan></text>
<text transform="translate(31.6,389.8) rotate(-90) translate(52.77,0) scale(1.38,1)" font-family="'Liberation Serif', 'Times New Roman', serif" font-size="28" fill="#000">=</text>
<rect x="885.5" y="12.5" width="268" height="197" fill="none" stroke="#262626" stroke-width="1"/>
<line x1="908.5" y1="209.5" x2="908.5" y2="206.2" stroke="#262626" stroke-width="1"/>
<line x1="908.5" y1="12.5" x2="908.5" y2="15.8" stroke="#262626" stroke-width="1"/>
<line x1="897.29" y1="209.5" x2="897.29" y2="207.2" stroke="#262626" stroke-width="1"/>
<line x1="897.29" y1="12.5" x2="897.29" y2="14.8" stroke="#262626" stroke-width="1"/>
<line x1="982.25" y1="209.5" x2="982.25" y2="207.2" stroke="#262626" stroke-width="1"/>
<line x1="982.25" y1="12.5" x2="982.25" y2="14.8" stroke="#262626" stroke-width="1"/>
<line x1="1025.39" y1="209.5" x2="1025.39" y2="207.2" stroke="#262626" stroke-width="1"/>
<line x1="1025.39" y1="12.5" x2="1025.39" y2="14.8" stroke="#262626" stroke-width="1"/>
<line x1="1056" y1="209.5" x2="1056" y2="207.2" stroke="#262626" stroke-width="1"/>
<line x1="1056" y1="12.5" x2="1056" y2="14.8" stroke="#262626" stroke-width="1"/>
<line x1="1079.75" y1="209.5" x2="1079.75" y2="207.2" stroke="#262626" stroke-width="1"/>
<line x1="1079.75" y1="12.5" x2="1079.75" y2="14.8" stroke="#262626" stroke-width="1"/>
<line x1="1099.15" y1="209.5" x2="1099.15" y2="207.2" stroke="#262626" stroke-width="1"/>
<line x1="1099.15" y1="12.5" x2="1099.15" y2="14.8" stroke="#262626" stroke-width="1"/>
<line x1="1115.55" y1="209.5" x2="1115.55" y2="207.2" stroke="#262626" stroke-width="1"/>
<line x1="1115.55" y1="12.5" x2="1115.55" y2="14.8" stroke="#262626" stroke-width="1"/>
<line x1="1129.76" y1="209.5" x2="1129.76" y2="207.2" stroke="#262626" stroke-width="1"/>
<line x1="1129.76" y1="12.5" x2="1129.76" y2="14.8" stroke="#262626" stroke-width="1"/>
<line x1="1142.29" y1="209.5" x2="1142.29" y2="207.2" stroke="#262626" stroke-width="1"/>
<line x1="1142.29" y1="12.5" x2="1142.29" y2="14.8" stroke="#262626" stroke-width="1"/>
<line x1="885.5" y1="42.4" x2="887.9" y2="42.4" stroke="#262626" stroke-width="1"/>
<line x1="1153.5" y1="42.4" x2="1150.2" y2="42.4" stroke="#262626" stroke-width="1"/>
<line x1="885.5" y1="159.2" x2="887" y2="159.2" stroke="#262626" stroke-width="1"/>
<line x1="1153.5" y1="159.2" x2="1151.2" y2="159.2" stroke="#262626" stroke-width="1"/>
<line x1="885.5" y1="129.77" x2="887" y2="129.77" stroke="#262626" stroke-width="1"/>
<line x1="1153.5" y1="129.77" x2="1151.2" y2="129.77" stroke="#262626" stroke-width="1"/>
<line x1="885.5" y1="108.9" x2="887" y2="108.9" stroke="#262626" stroke-width="1"/>
<line x1="1153.5" y1="108.9" x2="1151.2" y2="108.9" stroke="#262626" stroke-width="1"/>
<line x1="885.5" y1="92.7" x2="887" y2="92.7" stroke="#262626" stroke-width="1"/>
<line x1="1153.5" y1="92.7" x2="1151.2" y2="92.7" stroke="#262626" stroke-width="1"/>
<line x1="885.5" y1="79.47" x2="887" y2="79.47" stroke="#262626" stroke-width="1"/>
<line x1="1153.5" y1="79.47" x2="1151.2" y2="79.47" stroke="#262626" stroke-width="1"/>
<line x1="885.5" y1="68.28" x2="887" y2="68.28" stroke="#262626" stroke-width="1"/>
<line x1="1153.5" y1="68.28" x2="1151.2" y2="68.28" stroke="#262626" stroke-width="1"/>
<line x1="885.5" y1="58.59" x2="887" y2="58.59" stroke="#262626" stroke-width="1"/>
<line x1="1153.5" y1="58.59" x2="1151.2" y2="58.59" stroke="#262626" stroke-width="1"/>
<line x1="885.5" y1="50.05" x2="887" y2="50.05" stroke="#262626" stroke-width="1"/>
<line x1="1153.5" y1="50.05" x2="1151.2" y2="50.05" stroke="#262626" stroke-width="1"/>
<text x="878.2" y="54.6" font-family="'Liberation Sans', Arial, sans-serif" font-size="25.2" fill="#262626" text-anchor="end">10<tspan font-size="19.6" dy="-11.9">2</tspan></text>
<text x="878.2" y="222.9" font-family="'Liberation Sans', Arial, sans-serif" font-size="25.2" fill="#262626" text-anchor="end">10<tspan font-size="19.6" dy="-12.9">1</tspan></text>
<text x="908.9" y="249.5" font-family="'Liberation Sans', Arial, sans-serif" font-size="25.2" fill="#262626" text-anchor="middle">10<tspan font-size="19.6" dy="-12.8">-2</tspan></text>
<text x="1152" y="249.5" font-family="'Liberation Sans', Arial, sans-serif" font-size="25.2" fill="#262626" text-anchor="middle">10<tspan font-size="19.6" dy="-12.8">-1</tspan></text>
<text transform="translate(908.53,164.9) scale(1.25,1)" font-family="'Liberation Serif', 'Times New Roman', serif" font-size="25.5" fill="#000" font-style="italic">μ</text>
<line x1="907.9" y1="150.3" x2="924.1" y2="150.3" stroke="#000" stroke-width="1.1"/>
<text transform="translate(924.02,171.88) scale(1.31,1)" font-family="'Liberation Serif', 'Times New Roman', serif" font-size="18" fill="#444">−</text>
<text transform="translate(945.29,167) scale(1.45,1)" font-family="'Liberation Serif', 'Times New Roman', serif" font-size="25" fill="#333">=</text>
<text transform="translate(972.42,166.5) scale(1.27,1)" font-family="'Liberation Serif', 'Times New Roman', serif" font-size="25" fill="#000">−</text>
<text x="990.85" y="165.4" font-family="'Liberation Serif', 'Times New Roman', serif" font-size="25" fill="#000">0.465</text>
<circle cx="908" cy="50.8" r="8.4" fill="none" stroke="#ff0000" stroke-width="1.4"/>
<circle cx="980.2" cy="73.3" r="8.4" fill="none" stroke="#ff0000" stroke-width="1.4"/>
<circle cx="1024.1" cy="89" r="8.4" fill="none" stroke="#ff0000" stroke-width="1.4"/>
<circle cx="1053.9" cy="104.1" r="8.4" fill="none" stroke="#ff0000" stroke-width="1.4"/>
<circle cx="1077.7" cy="118.6" r="8.4" fill="none" stroke="#ff0000" stroke-width="1.4"/>
<circle cx="1096.5" cy="130.7" r="8.4" fill="none" stroke="#ff0000" stroke-width="1.4"/>
<circle cx="1112.8" cy="144.1" r="8.4" fill="none" stroke="#ff0000" stroke-width="1.4"/>
<circle cx="1127" cy="159.7" r="8.4" fill="none" stroke="#ff0000" stroke-width="1.4"/>
<circle cx="1139.4" cy="172.8" r="8.4" fill="none" stroke="#ff0000" stroke-width="1.4"/>
<line x1="908.3" y1="50.7" x2="1139.4" y2="124.37" stroke="#000" stroke-width="3" stroke-dasharray="8.2 8.4"/>
<text x="980.95" y="280.9" font-family="'Liberation Serif', 'Times New Roman', serif" font-size="25.5" fill="#000" font-style="italic">ω</text>
<text x="1005.28" y="286.52" font-family="'Liberation Serif', 'Times New Roman', serif" font-size="38.47" fill="#3a3a3a">+</text>
<text x="1033.46" y="280.9" font-family="'Liberation Serif', 'Times New Roman', serif" font-size="25" fill="#000" font-style="italic">ϵ</text>
<text x="1044.61" y="284.9" font-family="'Liberation Serif', 'Times New Roman', serif" font-size="19" fill="#000" font-style="italic">h</text>
<rect x="1228.5" y="12.5" width="268" height="197" fill="none" stroke="#262626" stroke-width="1"/>
<line x1="1246.2" y1="209.5" x2="1246.2" y2="206.2" stroke="#262626" stroke-width="1"/>
<line x1="1246.2" y1="12.5" x2="1246.2" y2="15.8" stroke="#262626" stroke-width="1"/>
<line x1="1462.7" y1="209.5" x2="1462.7" y2="206.2" stroke="#262626" stroke-width="1"/>
<line x1="1462.7" y1="12.5" x2="1462.7" y2="15.8" stroke="#262626" stroke-width="1"/>
<line x1="1256.11" y1="209.5" x2="1256.11" y2="207.2" stroke="#262626" stroke-width="1"/>
<line x1="1256.11" y1="12.5" x2="1256.11" y2="14.8" stroke="#262626" stroke-width="1"/>
<line x1="1267.18" y1="209.5" x2="1267.18" y2="207.2" stroke="#262626" stroke-width="1"/>
<line x1="1267.18" y1="12.5" x2="1267.18" y2="14.8" stroke="#262626" stroke-width="1"/>
<line x1="1279.74" y1="209.5" x2="1279.74" y2="207.2" stroke="#262626" stroke-width="1"/>
<line x1="1279.74" y1="12.5" x2="1279.74" y2="14.8" stroke="#262626" stroke-width="1"/>
<line x1="1294.23" y1="209.5" x2="1294.23" y2="207.2" stroke="#262626" stroke-width="1"/>
<line x1="1294.23" y1="12.5" x2="1294.23" y2="14.8" stroke="#262626" stroke-width="1"/>
<line x1="1311.37" y1="209.5" x2="1311.37" y2="207.2" stroke="#262626" stroke-width="1"/>
<line x1="1311.37" y1="12.5" x2="1311.37" y2="14.8" stroke="#262626" stroke-width="1"/>
<line x1="1332.35" y1="209.5" x2="1332.35" y2="207.2" stroke="#262626" stroke-width="1"/>
<line x1="1332.35" y1="12.5" x2="1332.35" y2="14.8" stroke="#262626" stroke-width="1"/>
<line x1="1359.4" y1="209.5" x2="1359.4" y2="207.2" stroke="#262626" stroke-width="1"/>
<line x1="1359.4" y1="12.5" x2="1359.4" y2="14.8" stroke="#262626" stroke-width="1"/>
<line x1="1397.53" y1="209.5" x2="1397.53" y2="207.2" stroke="#262626" stroke-width="1"/>
<line x1="1397.53" y1="12.5" x2="1397.53" y2="14.8" stroke="#262626" stroke-width="1"/>
<line x1="1472.61" y1="209.5" x2="1472.61" y2="207.2" stroke="#262626" stroke-width="1"/>
<line x1="1472.61" y1="12.5" x2="1472.61" y2="14.8" stroke="#262626" stroke-width="1"/>
<line x1="1483.68" y1="209.5" x2="1483.68" y2="207.2" stroke="#262626" stroke-width="1"/>
<line x1="1483.68" y1="12.5" x2="1483.68" y2="14.8" stroke="#262626" stroke-width="1"/>
<line x1="1228.5" y1="194.6" x2="1231.8" y2="194.6" stroke="#262626" stroke-width="1"/>
<line x1="1496.5" y1="194.6" x2="1493.2" y2="194.6" stroke="#262626" stroke-width="1"/>
<line x1="1228.5" y1="39.6" x2="1231.8" y2="39.6" stroke="#262626" stroke-width="1"/>
<line x1="1496.5" y1="39.6" x2="1493.2" y2="39.6" stroke="#262626" stroke-width="1"/>
<line x1="1228.5" y1="201.69" x2="1230.8" y2="201.69" stroke="#262626" stroke-width="1"/>
<line x1="1496.5" y1="201.69" x2="1494.2" y2="201.69" stroke="#262626" stroke-width="1"/>
<line x1="1228.5" y1="147.94" x2="1230.8" y2="147.94" stroke="#262626" stroke-width="1"/>
<line x1="1496.5" y1="147.94" x2="1494.2" y2="147.94" stroke="#262626" stroke-width="1"/>
<line x1="1228.5" y1="120.65" x2="1230.8" y2="120.65" stroke="#262626" stroke-width="1"/>
<line x1="1496.5" y1="120.65" x2="1494.2" y2="120.65" stroke="#262626" stroke-width="1"/>
<line x1="1228.5" y1="101.28" x2="1230.8" y2="101.28" stroke="#262626" stroke-width="1"/>
<line x1="1496.5" y1="101.28" x2="1494.2" y2="101.28" stroke="#262626" stroke-width="1"/>
<line x1="1228.5" y1="86.26" x2="1230.8" y2="86.26" stroke="#262626" stroke-width="1"/>
<line x1="1496.5" y1="86.26" x2="1494.2" y2="86.26" stroke="#262626" stroke-width="1"/>
<line x1="1228.5" y1="73.99" x2="1230.8" y2="73.99" stroke="#262626" stroke-width="1"/>
<line x1="1496.5" y1="73.99" x2="1494.2" y2="73.99" stroke="#262626" stroke-width="1"/>
<line x1="1228.5" y1="63.61" x2="1230.8" y2="63.61" stroke="#262626" stroke-width="1"/>
<line x1="1496.5" y1="63.61" x2="1494.2" y2="63.61" stroke="#262626" stroke-width="1"/>
<line x1="1228.5" y1="54.62" x2="1230.8" y2="54.62" stroke="#262626" stroke-width="1"/>
<line x1="1496.5" y1="54.62" x2="1494.2" y2="54.62" stroke="#262626" stroke-width="1"/>
<line x1="1228.5" y1="46.69" x2="1230.8" y2="46.69" stroke="#262626" stroke-width="1"/>
<line x1="1496.5" y1="46.69" x2="1494.2" y2="46.69" stroke="#262626" stroke-width="1"/>
<text x="1221.2" y="52.8" font-family="'Liberation Sans', Arial, sans-serif" font-size="25.2" fill="#262626" text-anchor="end">10<tspan font-size="19.6" dy="-12.1">2</tspan></text>
<text x="1462.9" y="249.5" font-family="'Liberation Sans', Arial, sans-serif" font-size="25.2" fill="#262626" text-anchor="middle">-10<tspan font-size="19.6" dy="-12.7">-2</tspan></text>
<text transform="translate(1332.93,78.8) scale(1.16,1)" font-family="'Liberation Serif', 'Times New Roman', serif" font-size="25.5" fill="#000" font-style="italic">μ</text>
<line x1="1332.1" y1="86.5" x2="1348" y2="86.5" stroke="#000" stroke-width="1.1"/>
<text transform="translate(1347.74,90.38) scale(1.29,1)" font-family="'Liberation Serif', 'Times New Roman', serif" font-size="18" fill="#444">−</text>
<text transform="translate(1368.63,80.3) scale(1.42,1)" font-family="'Liberation Serif', 'Times New Roman', serif" font-size="25" fill="#333">=</text>
<text x="1395.1" y="78.8" font-family="'Liberation Serif', 'Times New Roman', serif" font-size="25" fill="#000">1.141</text>
<circle cx="1240.9" cy="47.8" r="8.4" fill="none" stroke="#ff0000" stroke-width="1.4"/>
<circle cx="1250.3" cy="69.2" r="8.4" fill="none" stroke="#ff0000" stroke-width="1.4"/>
<circle cx="1260.6" cy="83.4" r="8.4" fill="none" stroke="#ff0000" stroke-width="1.4"/>
<circle cx="1271.9" cy="97" r="8.4" fill="none" stroke="#ff0000" stroke-width="1.4"/>
<circle cx="1284.9" cy="110.2" r="8.4" fill="none" stroke="#ff0000" stroke-width="1.4"/>
<circle cx="1300.2" cy="121.7" r="8.4" fill="none" stroke="#ff0000" stroke-width="1.4"/>
<circle cx="1318" cy="133.7" r="8.4" fill="none" stroke="#ff0000" stroke-width="1.4"/>
<circle cx="1340.6" cy="148.3" r="8.4" fill="none" stroke="#ff0000" stroke-width="1.4"/>
<circle cx="1369.3" cy="160.6" r="8.4" fill="none" stroke="#ff0000" stroke-width="1.4"/>
<circle cx="1411.5" cy="177.5" r="8.4" fill="none" stroke="#ff0000" stroke-width="1.4"/>
<circle cx="1490" cy="198.2" r="8.4" fill="none" stroke="#ff0000" stroke-width="1.4"/>
<polyline points="1242.6,85.68 1246.8,88.52 1251,91.34 1255.19,94.14 1259.39,96.92 1263.59,99.68 1267.79,102.42 1271.99,105.13 1276.19,107.83 1280.38,110.5 1284.58,113.14 1288.78,115.76 1292.98,118.36 1297.18,120.93 1301.38,123.47 1305.57,125.99 1309.77,128.47 1313.97,130.93 1318.17,133.36 1322.37,135.76 1326.57,138.12 1330.76,140.46 1334.96,142.76 1339.16,145.02 1343.36,147.26 1347.56,149.45 1351.76,151.62 1355.95,153.74 1360.15,155.83 1364.35,157.88 1368.55,159.89 1372.75,161.86 1376.95,163.8 1381.14,165.69 1385.34,167.54 1389.54,169.34 1393.74,171.11 1397.94,172.83 1402.14,174.5 1406.33,176.13 1410.53,177.72 1414.73,179.25 1418.93,180.74 1423.13,182.19 1427.33,183.58 1431.52,184.92 1435.72,186.22 1439.92,187.46 1444.12,188.65 1448.32,189.78 1452.52,190.87 1456.71,191.9 1460.91,192.87 1465.11,193.79 1469.31,194.65 1473.51,195.46 1477.71,196.21 1481.9,196.9 1486.1,197.53 1490.3,198.1" fill="none" stroke="#000" stroke-width="3" stroke-linejoin="round" stroke-dasharray="8.2 8.4"/>
<text x="1325.05" y="281" font-family="'Liberation Serif', 'Times New Roman', serif" font-size="25.5" fill="#000" font-style="italic">ω</text>
<text x="1349.59" y="286.8" font-family="'Liberation Serif', 'Times New Roman', serif" font-size="38.25" fill="#3a3a3a">+</text>
<text x="1377.66" y="281" font-family="'Liberation Serif', 'Times New Roman', serif" font-size="25" fill="#000" font-style="italic">ϵ</text>
<text x="1388.91" y="285.05" font-family="'Liberation Serif', 'Times New Roman', serif" font-size="19" fill="#000" font-style="italic">p</text>
<rect x="885.5" y="306.5" width="268" height="197" fill="none" stroke="#262626" stroke-width="1"/>
<line x1="971.2" y1="503.5" x2="971.2" y2="500.2" stroke="#262626" stroke-width="1"/>
<line x1="971.2" y1="306.5" x2="971.2" y2="309.8" stroke="#262626" stroke-width="1"/>
<line x1="1115.2" y1="503.5" x2="1115.2" y2="500.2" stroke="#262626" stroke-width="1"/>
<line x1="1115.2" y1="306.5" x2="1115.2" y2="309.8" stroke="#262626" stroke-width="1"/>
<line x1="902.49" y1="503.5" x2="902.49" y2="501.2" stroke="#262626" stroke-width="1"/>
<line x1="902.49" y1="306.5" x2="902.49" y2="308.8" stroke="#262626" stroke-width="1"/>
<line x1="927.85" y1="503.5" x2="927.85" y2="501.2" stroke="#262626" stroke-width="1"/>
<line x1="927.85" y1="306.5" x2="927.85" y2="308.8" stroke="#262626" stroke-width="1"/>
<line x1="977.79" y1="503.5" x2="977.79" y2="501.2" stroke="#262626" stroke-width="1"/>
<line x1="977.79" y1="306.5" x2="977.79" y2="308.8" stroke="#262626" stroke-width="1"/>
<line x1="985.16" y1="503.5" x2="985.16" y2="501.2" stroke="#262626" stroke-width="1"/>
<line x1="985.16" y1="306.5" x2="985.16" y2="308.8" stroke="#262626" stroke-width="1"/>
<line x1="993.51" y1="503.5" x2="993.51" y2="501.2" stroke="#262626" stroke-width="1"/>
<line x1="993.51" y1="306.5" x2="993.51" y2="308.8" stroke="#262626" stroke-width="1"/>
<line x1="1003.15" y1="503.5" x2="1003.15" y2="501.2" stroke="#262626" stroke-width="1"/>
<line x1="1003.15" y1="306.5" x2="1003.15" y2="308.8" stroke="#262626" stroke-width="1"/>
<line x1="1014.55" y1="503.5" x2="1014.55" y2="501.2" stroke="#262626" stroke-width="1"/>
<line x1="1014.55" y1="306.5" x2="1014.55" y2="308.8" stroke="#262626" stroke-width="1"/>
<line x1="1028.5" y1="503.5" x2="1028.5" y2="501.2" stroke="#262626" stroke-width="1"/>
<line x1="1028.5" y1="306.5" x2="1028.5" y2="308.8" stroke="#262626" stroke-width="1"/>
<line x1="1046.49" y1="503.5" x2="1046.49" y2="501.2" stroke="#262626" stroke-width="1"/>
<line x1="1046.49" y1="306.5" x2="1046.49" y2="308.8" stroke="#262626" stroke-width="1"/>
<line x1="1071.85" y1="503.5" x2="1071.85" y2="501.2" stroke="#262626" stroke-width="1"/>
<line x1="1071.85" y1="306.5" x2="1071.85" y2="308.8" stroke="#262626" stroke-width="1"/>
<line x1="1121.79" y1="503.5" x2="1121.79" y2="501.2" stroke="#262626" stroke-width="1"/>
<line x1="1121.79" y1="306.5" x2="1121.79" y2="308.8" stroke="#262626" stroke-width="1"/>
<line x1="1129.16" y1="503.5" x2="1129.16" y2="501.2" stroke="#262626" stroke-width="1"/>
<line x1="1129.16" y1="306.5" x2="1129.16" y2="308.8" stroke="#262626" stroke-width="1"/>
<line x1="1137.51" y1="503.5" x2="1137.51" y2="501.2" stroke="#262626" stroke-width="1"/>
<line x1="1137.51" y1="306.5" x2="1137.51" y2="308.8" stroke="#262626" stroke-width="1"/>
<line x1="1147.15" y1="503.5" x2="1147.15" y2="501.2" stroke="#262626" stroke-width="1"/>
<line x1="1147.15" y1="306.5" x2="1147.15" y2="308.8" stroke="#262626" stroke-width="1"/>
<line x1="885.5" y1="450.3" x2="887.9" y2="450.3" stroke="#262626" stroke-width="1"/>
<line x1="1153.5" y1="450.3" x2="1150.2" y2="450.3" stroke="#262626" stroke-width="1"/>
<line x1="885.5" y1="495.54" x2="887" y2="495.54" stroke="#262626" stroke-width="1"/>
<line x1="1153.5" y1="495.54" x2="1151.2" y2="495.54" stroke="#262626" stroke-width="1"/>
<line x1="885.5" y1="483.64" x2="887" y2="483.64" stroke="#262626" stroke-width="1"/>
<line x1="1153.5" y1="483.64" x2="1151.2" y2="483.64" stroke="#262626" stroke-width="1"/>
<line x1="885.5" y1="473.58" x2="887" y2="473.58" stroke="#262626" stroke-width="1"/>
<line x1="1153.5" y1="473.58" x2="1151.2" y2="473.58" stroke="#262626" stroke-width="1"/>
<line x1="885.5" y1="464.87" x2="887" y2="464.87" stroke="#262626" stroke-width="1"/>
<line x1="1153.5" y1="464.87" x2="1151.2" y2="464.87" stroke="#262626" stroke-width="1"/>
<line x1="885.5" y1="457.18" x2="887" y2="457.18" stroke="#262626" stroke-width="1"/>
<line x1="1153.5" y1="457.18" x2="1151.2" y2="457.18" stroke="#262626" stroke-width="1"/>
<line x1="885.5" y1="405.06" x2="887" y2="405.06" stroke="#262626" stroke-width="1"/>
<line x1="1153.5" y1="405.06" x2="1151.2" y2="405.06" stroke="#262626" stroke-width="1"/>
<line x1="885.5" y1="378.59" x2="887" y2="378.59" stroke="#262626" stroke-width="1"/>
<line x1="1153.5" y1="378.59" x2="1151.2" y2="378.59" stroke="#262626" stroke-width="1"/>
<line x1="885.5" y1="359.81" x2="887" y2="359.81" stroke="#262626" stroke-width="1"/>
<line x1="1153.5" y1="359.81" x2="1151.2" y2="359.81" stroke="#262626" stroke-width="1"/>
<line x1="885.5" y1="345.24" x2="887" y2="345.24" stroke="#262626" stroke-width="1"/>
<line x1="1153.5" y1="345.24" x2="1151.2" y2="345.24" stroke="#262626" stroke-width="1"/>
<line x1="885.5" y1="333.34" x2="887" y2="333.34" stroke="#262626" stroke-width="1"/>
<line x1="1153.5" y1="333.34" x2="1151.2" y2="333.34" stroke="#262626" stroke-width="1"/>
<line x1="885.5" y1="323.28" x2="887" y2="323.28" stroke="#262626" stroke-width="1"/>
<line x1="1153.5" y1="323.28" x2="1151.2" y2="323.28" stroke="#262626" stroke-width="1"/>
<line x1="885.5" y1="314.57" x2="887" y2="314.57" stroke="#262626" stroke-width="1"/>
<line x1="1153.5" y1="314.57" x2="1151.2" y2="314.57" stroke="#262626" stroke-width="1"/>
<text x="878.2" y="464.8" font-family="'Liberation Sans', Arial, sans-serif" font-size="25.2" fill="#262626" text-anchor="end">10<tspan font-size="19.6" dy="-12.9">2</tspan></text>
<text x="970.6" y="541.6" font-family="'Liberation Sans', Arial, sans-serif" font-size="25.2" fill="#262626" text-anchor="middle">-10<tspan font-size="19.6" dy="-12.7">-2</tspan></text>
<text transform="translate(903.73,384.6) scale(1.11,1)" font-family="'Liberation Serif', 'Times New Roman', serif" font-size="25.5" fill="#000" font-style="italic">μ</text>
<line x1="903" y1="370.2" x2="919.1" y2="370.2" stroke="#000" stroke-width="1.1"/>
<text x="918.15" y="394.45" font-family="'Liberation Serif', 'Times New Roman', serif" font-size="25.14" fill="#444">+</text>
<text transform="translate(939.29,386.75) scale(1.45,1)" font-family="'Liberation Serif', 'Times New Roman', serif" font-size="25" fill="#333">=</text>
<text transform="translate(966.36,386.7) scale(1.32,1)" font-family="'Liberation Serif', 'Times New Roman', serif" font-size="25" fill="#000">−</text>
<text x="985.55" y="385.1" font-family="'Liberation Serif', 'Times New Roman', serif" font-size="25" fill="#000">0.529</text>
<circle cx="969.96" cy="430.73" r="8.4" fill="none" stroke="#0000ff" stroke-width="1.4"/>
<circle cx="960.69" cy="437.67" r="8.4" fill="none" stroke="#0000ff" stroke-width="1.4"/>
<circle cx="952.62" cy="443.3" r="8.4" fill="none" stroke="#0000ff" stroke-width="1.4"/>
<circle cx="945.47" cy="448.48" r="8.4" fill="none" stroke="#0000ff" stroke-width="1.4"/>
<circle cx="939.05" cy="453.71" r="8.4" fill="none" stroke="#0000ff" stroke-width="1.4"/>
<circle cx="933.24" cy="458.9" r="8.4" fill="none" stroke="#0000ff" stroke-width="1.4"/>
<circle cx="927.91" cy="463.36" r="8.4" fill="none" stroke="#0000ff" stroke-width="1.4"/>
<circle cx="923.01" cy="467.28" r="8.4" fill="none" stroke="#0000ff" stroke-width="1.4"/>
<circle cx="918.46" cy="470.59" r="8.4" fill="none" stroke="#0000ff" stroke-width="1.4"/>
<circle cx="914.22" cy="473.64" r="8.4" fill="none" stroke="#0000ff" stroke-width="1.4"/>
<circle cx="910.25" cy="476.96" r="8.4" fill="none" stroke="#0000ff" stroke-width="1.4"/>
<circle cx="906.52" cy="480.42" r="8.4" fill="none" stroke="#0000ff" stroke-width="1.4"/>
<circle cx="903" cy="483.55" r="8.4" fill="none" stroke="#0000ff" stroke-width="1.4"/>
<circle cx="899.66" cy="486.3" r="8.4" fill="none" stroke="#0000ff" stroke-width="1.4"/>
<circle cx="896.5" cy="488.79" r="8.4" fill="none" stroke="#0000ff" stroke-width="1.4"/>
<circle cx="893.48" cy="490.3" r="8.4" fill="none" stroke="#0000ff" stroke-width="1.4"/>
<circle cx="979.5" cy="422.4" r="8.4" fill="none" stroke="#0000ff" stroke-width="1.4"/>
<circle cx="993.7" cy="412.7" r="8.4" fill="none" stroke="#0000ff" stroke-width="1.4"/>
<circle cx="1011.7" cy="401.9" r="8.4" fill="none" stroke="#0000ff" stroke-width="1.4"/>
<circle cx="1036.9" cy="385.6" r="8.4" fill="none" stroke="#0000ff" stroke-width="1.4"/>
<circle cx="1062.4" cy="369.9" r="8.4" fill="none" stroke="#0000ff" stroke-width="1.4"/>
<circle cx="1080" cy="359" r="8.4" fill="none" stroke="#0000ff" stroke-width="1.4"/>
<circle cx="1105.2" cy="344" r="8.4" fill="none" stroke="#0000ff" stroke-width="1.4"/>
<circle cx="1149.2" cy="320.3" r="8.4" fill="none" stroke="#0000ff" stroke-width="1.4"/>
<line x1="894.6" y1="460.8" x2="1149.2" y2="319.5" stroke="#000" stroke-width="3" stroke-dasharray="8.2 8.4"/>
<text x="981.15" y="571.7" font-family="'Liberation Serif', 'Times New Roman', serif" font-size="25.5" fill="#000" font-style="italic">ω</text>
<text transform="translate(1006.72,573.4) scale(1.43,1)" font-family="'Liberation Serif', 'Times New Roman', serif" font-size="25" fill="#000">−</text>
<text x="1033.96" y="571.7" font-family="'Liberation Serif', 'Times New Roman', serif" font-size="25" fill="#000" font-style="italic">ϵ</text>
<text x="1045.31" y="576" font-family="'Liberation Serif', 'Times New Roman', serif" font-size="19" fill="#000" font-style="italic">p</text>
<rect x="1228.5" y="306.5" width="268" height="197" fill="none" stroke="#262626" stroke-width="1"/>
<line x1="1411.5" y1="503.5" x2="1411.5" y2="500.2" stroke="#262626" stroke-width="1"/>
<line x1="1411.5" y1="306.5" x2="1411.5" y2="309.8" stroke="#262626" stroke-width="1"/>
<line x1="1271.1" y1="503.5" x2="1271.1" y2="500.2" stroke="#262626" stroke-width="1"/>
<line x1="1271.1" y1="306.5" x2="1271.1" y2="309.8" stroke="#262626" stroke-width="1"/>
<line x1="1239.95" y1="503.5" x2="1239.95" y2="501.2" stroke="#262626" stroke-width="1"/>
<line x1="1239.95" y1="306.5" x2="1239.95" y2="308.8" stroke="#262626" stroke-width="1"/>
<line x1="1249.35" y1="503.5" x2="1249.35" y2="501.2" stroke="#262626" stroke-width="1"/>
<line x1="1249.35" y1="306.5" x2="1249.35" y2="308.8" stroke="#262626" stroke-width="1"/>
<line x1="1257.49" y1="503.5" x2="1257.49" y2="501.2" stroke="#262626" stroke-width="1"/>
<line x1="1257.49" y1="306.5" x2="1257.49" y2="308.8" stroke="#262626" stroke-width="1"/>
<line x1="1264.68" y1="503.5" x2="1264.68" y2="501.2" stroke="#262626" stroke-width="1"/>
<line x1="1264.68" y1="306.5" x2="1264.68" y2="308.8" stroke="#262626" stroke-width="1"/>
<line x1="1313.36" y1="503.5" x2="1313.36" y2="501.2" stroke="#262626" stroke-width="1"/>
<line x1="1313.36" y1="306.5" x2="1313.36" y2="308.8" stroke="#262626" stroke-width="1"/>
<line x1="1338.09" y1="503.5" x2="1338.09" y2="501.2" stroke="#262626" stroke-width="1"/>
<line x1="1338.09" y1="306.5" x2="1338.09" y2="308.8" stroke="#262626" stroke-width="1"/>
<line x1="1355.63" y1="503.5" x2="1355.63" y2="501.2" stroke="#262626" stroke-width="1"/>
<line x1="1355.63" y1="306.5" x2="1355.63" y2="308.8" stroke="#262626" stroke-width="1"/>
<line x1="1369.24" y1="503.5" x2="1369.24" y2="501.2" stroke="#262626" stroke-width="1"/>
<line x1="1369.24" y1="306.5" x2="1369.24" y2="308.8" stroke="#262626" stroke-width="1"/>
<line x1="1380.35" y1="503.5" x2="1380.35" y2="501.2" stroke="#262626" stroke-width="1"/>
<line x1="1380.35" y1="306.5" x2="1380.35" y2="308.8" stroke="#262626" stroke-width="1"/>
<line x1="1389.75" y1="503.5" x2="1389.75" y2="501.2" stroke="#262626" stroke-width="1"/>
<line x1="1389.75" y1="306.5" x2="1389.75" y2="308.8" stroke="#262626" stroke-width="1"/>
<line x1="1397.89" y1="503.5" x2="1397.89" y2="501.2" stroke="#262626" stroke-width="1"/>
<line x1="1397.89" y1="306.5" x2="1397.89" y2="308.8" stroke="#262626" stroke-width="1"/>
<line x1="1405.08" y1="503.5" x2="1405.08" y2="501.2" stroke="#262626" stroke-width="1"/>
<line x1="1405.08" y1="306.5" x2="1405.08" y2="308.8" stroke="#262626" stroke-width="1"/>
<line x1="1453.76" y1="503.5" x2="1453.76" y2="501.2" stroke="#262626" stroke-width="1"/>
<line x1="1453.76" y1="306.5" x2="1453.76" y2="308.8" stroke="#262626" stroke-width="1"/>
<line x1="1478.49" y1="503.5" x2="1478.49" y2="501.2" stroke="#262626" stroke-width="1"/>
<line x1="1478.49" y1="306.5" x2="1478.49" y2="308.8" stroke="#262626" stroke-width="1"/>
<line x1="1228.5" y1="444.6" x2="1231.8" y2="444.6" stroke="#262626" stroke-width="1"/>
<line x1="1496.5" y1="444.6" x2="1493.2" y2="444.6" stroke="#262626" stroke-width="1"/>
<line x1="1228.5" y1="337.6" x2="1231.8" y2="337.6" stroke="#262626" stroke-width="1"/>
<line x1="1496.5" y1="337.6" x2="1493.2" y2="337.6" stroke="#262626" stroke-width="1"/>
<line x1="1228.5" y1="500.55" x2="1230.8" y2="500.55" stroke="#262626" stroke-width="1"/>
<line x1="1496.5" y1="500.55" x2="1494.2" y2="500.55" stroke="#262626" stroke-width="1"/>
<line x1="1228.5" y1="487.18" x2="1230.8" y2="487.18" stroke="#262626" stroke-width="1"/>
<line x1="1496.5" y1="487.18" x2="1494.2" y2="487.18" stroke="#262626" stroke-width="1"/>
<line x1="1228.5" y1="476.81" x2="1230.8" y2="476.81" stroke="#262626" stroke-width="1"/>
<line x1="1496.5" y1="476.81" x2="1494.2" y2="476.81" stroke="#262626" stroke-width="1"/>
<line x1="1228.5" y1="468.34" x2="1230.8" y2="468.34" stroke="#262626" stroke-width="1"/>
<line x1="1496.5" y1="468.34" x2="1494.2" y2="468.34" stroke="#262626" stroke-width="1"/>
<line x1="1228.5" y1="461.17" x2="1230.8" y2="461.17" stroke="#262626" stroke-width="1"/>
<line x1="1496.5" y1="461.17" x2="1494.2" y2="461.17" stroke="#262626" stroke-width="1"/>
<line x1="1228.5" y1="454.97" x2="1230.8" y2="454.97" stroke="#262626" stroke-width="1"/>
<line x1="1496.5" y1="454.97" x2="1494.2" y2="454.97" stroke="#262626" stroke-width="1"/>
<line x1="1228.5" y1="449.5" x2="1230.8" y2="449.5" stroke="#262626" stroke-width="1"/>
<line x1="1496.5" y1="449.5" x2="1494.2" y2="449.5" stroke="#262626" stroke-width="1"/>
<line x1="1228.5" y1="412.39" x2="1230.8" y2="412.39" stroke="#262626" stroke-width="1"/>
<line x1="1496.5" y1="412.39" x2="1494.2" y2="412.39" stroke="#262626" stroke-width="1"/>
<line x1="1228.5" y1="393.55" x2="1230.8" y2="393.55" stroke="#262626" stroke-width="1"/>
<line x1="1496.5" y1="393.55" x2="1494.2" y2="393.55" stroke="#262626" stroke-width="1"/>
<line x1="1228.5" y1="380.18" x2="1230.8" y2="380.18" stroke="#262626" stroke-width="1"/>
<line x1="1496.5" y1="380.18" x2="1494.2" y2="380.18" stroke="#262626" stroke-width="1"/>
<line x1="1228.5" y1="369.81" x2="1230.8" y2="369.81" stroke="#262626" stroke-width="1"/>
<line x1="1496.5" y1="369.81" x2="1494.2" y2="369.81" stroke="#262626" stroke-width="1"/>
<line x1="1228.5" y1="361.34" x2="1230.8" y2="361.34" stroke="#262626" stroke-width="1"/>
<line x1="1496.5" y1="361.34" x2="1494.2" y2="361.34" stroke="#262626" stroke-width="1"/>
<line x1="1228.5" y1="354.17" x2="1230.8" y2="354.17" stroke="#262626" stroke-width="1"/>
<line x1="1496.5" y1="354.17" x2="1494.2" y2="354.17" stroke="#262626" stroke-width="1"/>
<line x1="1228.5" y1="347.97" x2="1230.8" y2="347.97" stroke="#262626" stroke-width="1"/>
<line x1="1496.5" y1="347.97" x2="1494.2" y2="347.97" stroke="#262626" stroke-width="1"/>
<line x1="1228.5" y1="342.5" x2="1230.8" y2="342.5" stroke="#262626" stroke-width="1"/>
<line x1="1496.5" y1="342.5" x2="1494.2" y2="342.5" stroke="#262626" stroke-width="1"/>
<text x="1221.2" y="458.5" font-family="'Liberation Sans', Arial, sans-serif" font-size="25.2" fill="#262626" text-anchor="end">10<tspan font-size="19.6" dy="-12.7">0</tspan></text>
<text x="1411.5" y="543.6" font-family="'Liberation Sans', Arial, sans-serif" font-size="25.2" fill="#262626" text-anchor="middle">10<tspan font-size="19.6" dy="-12.8">-2</tspan></text>
<text transform="translate(1271.93,385.6) scale(1.14,1)" font-family="'Liberation Serif', 'Times New Roman', serif" font-size="25.5" fill="#000" font-style="italic">μ</text>
<line x1="1271" y1="393.6" x2="1286.8" y2="393.6" stroke="#000" stroke-width="1.1"/>
<text x="1286.19" y="399.66" font-family="'Liberation Serif', 'Times New Roman', serif" font-size="24.28" fill="#444">+</text>
<text transform="translate(1306.96,387.3) scale(1.48,1)" font-family="'Liberation Serif', 'Times New Roman', serif" font-size="25" fill="#333">=</text>
<text x="1333.75" y="385.6" font-family="'Liberation Serif', 'Times New Roman', serif" font-size="25" fill="#000">0.977</text>
<circle cx="1236.6" cy="485.3" r="8.4" fill="none" stroke="#0000ff" stroke-width="1.4"/>
<circle cx="1279.3" cy="467.6" r="8.4" fill="none" stroke="#0000ff" stroke-width="1.4"/>
<circle cx="1303.9" cy="455.1" r="8.4" fill="none" stroke="#0000ff" stroke-width="1.4"/>
<circle cx="1335.3" cy="437.4" r="8.4" fill="none" stroke="#0000ff" stroke-width="1.4"/>
<circle cx="1363.8" cy="419.6" r="8.4" fill="none" stroke="#0000ff" stroke-width="1.4"/>
<circle cx="1383.3" cy="406.8" r="8.4" fill="none" stroke="#0000ff" stroke-width="1.4"/>
<circle cx="1397.4" cy="396.6" r="8.4" fill="none" stroke="#0000ff" stroke-width="1.4"/>
<circle cx="1410" cy="387.9" r="8.4" fill="none" stroke="#0000ff" stroke-width="1.4"/>
<circle cx="1419.6" cy="380.2" r="8.4" fill="none" stroke="#0000ff" stroke-width="1.4"/>
<circle cx="1427.3" cy="373" r="8.4" fill="none" stroke="#0000ff" stroke-width="1.4"/>
<circle cx="1433.1" cy="368.6" r="8.4" fill="none" stroke="#0000ff" stroke-width="1.4"/>
<circle cx="1438.9" cy="363.8" r="8.4" fill="none" stroke="#0000ff" stroke-width="1.4"/>
<circle cx="1445.7" cy="358" r="8.4" fill="none" stroke="#0000ff" stroke-width="1.4"/>
<circle cx="1451.5" cy="353.1" r="8.4" fill="none" stroke="#0000ff" stroke-width="1.4"/>
<circle cx="1457.3" cy="349.3" r="8.4" fill="none" stroke="#0000ff" stroke-width="1.4"/>
<circle cx="1462.1" cy="344.4" r="8.4" fill="none" stroke="#0000ff" stroke-width="1.4"/>
<circle cx="1467.9" cy="339.6" r="8.4" fill="none" stroke="#0000ff" stroke-width="1.4"/>
<circle cx="1472.8" cy="334.8" r="8.4" fill="none" stroke="#0000ff" stroke-width="1.4"/>
<circle cx="1476.6" cy="330.9" r="8.4" fill="none" stroke="#0000ff" stroke-width="1.4"/>
<circle cx="1480.5" cy="328" r="8.4" fill="none" stroke="#0000ff" stroke-width="1.4"/>
<circle cx="1483.4" cy="326.1" r="8.4" fill="none" stroke="#0000ff" stroke-width="1.4"/>
<circle cx="1485.9" cy="324.2" r="8.4" fill="none" stroke="#0000ff" stroke-width="1.4"/>
<polyline points="1237,485.2 1241.19,483.58 1245.38,481.93 1249.57,480.22 1253.76,478.48 1257.95,476.68 1262.14,474.85 1266.33,472.97 1270.52,471.06 1274.71,469.1 1278.9,467.1 1283.09,465.06 1287.28,462.99 1291.47,460.87 1295.66,458.72 1299.85,456.53 1304.04,454.31 1308.23,452.05 1312.42,449.76 1316.61,447.44 1320.8,445.08 1324.99,442.69 1329.18,440.27 1333.37,437.82 1337.56,435.34 1341.75,432.83 1345.94,430.3 1350.13,427.73 1354.32,425.14 1358.51,422.53 1362.69,419.88 1366.88,417.22 1371.07,414.53 1375.26,411.82 1379.45,409.08 1383.64,406.33 1387.83,403.55 1392.02,400.76 1396.21,397.94 1400.4,395.11 1404.59,392.26 1408.78,389.39 1412.97,386.51 1417.16,383.61 1421.35,380.69 1425.54,377.76 1429.73,374.82 1433.92,371.87 1438.11,368.9 1442.3,365.93 1446.49,362.94 1450.68,359.95 1454.87,356.94 1459.06,353.93 1463.25,350.91 1467.44,347.89 1471.63,344.85 1475.82,341.82 1480.01,338.78 1484.2,335.73" fill="none" stroke="#000" stroke-width="3" stroke-linejoin="round" stroke-dasharray="8.2 8.4"/>
<text x="1324.45" y="574.8" font-family="'Liberation Serif', 'Times New Roman', serif" font-size="25.5" fill="#000" font-style="italic">ω</text>
<text transform="translate(1349.76,576.3) scale(1.4,1)" font-family="'Liberation Serif', 'Times New Roman', serif" font-size="25" fill="#000">−</text>
<text x="1376.86" y="574.8" font-family="'Liberation Serif', 'Times New Roman', serif" font-size="25" fill="#000" font-style="italic">ϵ</text>
<text x="1388.21" y="579" font-family="'Liberation Serif', 'Times New Roman', serif" font-size="19" fill="#000" font-style="italic">h</text>
<text transform="translate(823.3,204.8) rotate(-90)" font-family="'Liberation Serif', 'Times New Roman', serif" fill="#000"><tspan x="1.53" y="0" font-size="28" font-style="italic">A</tspan><tspan x="20.57" y="0" font-size="28">(</tspan><tspan x="31.09" y="0" font-size="28" font-style="italic">k</tspan><tspan x="82.03" y="0" font-size="28">0</tspan><tspan x="96.45" y="0" font-size="28">.</tspan><tspan x="101.64" y="0" font-size="28">1</tspan><tspan x="115.69" y="0" font-size="28" font-style="italic">k</tspan><tspan x="133.9" y="3.9" font-size="18.5" font-style="italic">F</tspan><tspan x="149.23" y="0" font-size="28">,</tspan><tspan x="159.87" y="0" font-size="28" font-style="italic">ω</tspan><tspan x="178.7" y="0" font-size="28">)</tspan></text>
<text transform="translate(823.3,204.8) rotate(-90) translate(52.77,0) scale(1.38,1)" font-family="'Liberation Serif', 'Times New Roman', serif" font-size="28" fill="#000">=</text>
<text transform="translate(823.3,497.2) rotate(-90)" font-family="'Liberation Serif', 'Times New Roman', serif" fill="#000"><tspan x="1.53" y="0" font-size="28" font-style="italic">A</tspan><tspan x="20.39" y="0" font-size="28">(</tspan><tspan x="30.84" y="0" font-size="28" font-style="italic">k</tspan><tspan x="81.37" y="0" font-size="28">0</tspan><tspan x="95.66" y="0" font-size="28">.</tspan><tspan x="100.8" y="0" font-size="28">1</tspan><tspan x="114.76" y="0" font-size="28" font-style="italic">k</tspan><tspan x="132.82" y="3.9" font-size="18.5" font-style="italic">F</tspan><tspan x="148.02" y="0" font-size="28">,</tspan><tspan x="158.58" y="0" font-size="28" font-style="italic">ω</tspan><tspan x="177.25" y="0" font-size="28">)</tspan></text>
<text transform="translate(823.3,497.2) rotate(-90) translate(52.35,0) scale(1.37,1)" font-family="'Liberation Serif', 'Times New Roman', serif" font-size="28" fill="#000">=</text>
<text x="1185.1" y="604" font-family="'Liberation Sans', Arial, sans-serif" font-size="25.2" text-anchor="middle" fill="#262626">(b)</text></svg>
</body></html>
